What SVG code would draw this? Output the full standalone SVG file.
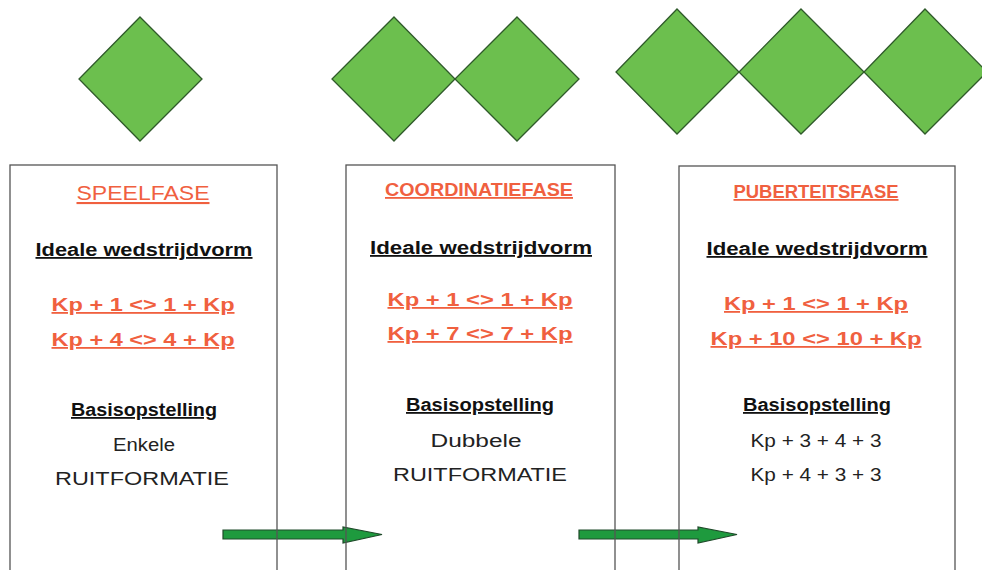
<svg xmlns="http://www.w3.org/2000/svg" width="982" height="570" viewBox="0 0 982 570">
<style>
.dia{fill:#6cbf4e;stroke:#2f5a2a;stroke-width:1.3}
.box{fill:none;stroke:#555;stroke-width:1.3}
.arr{fill:#1e9a3e;stroke:#1f4a2a;stroke-width:1.2}
text{font-family:"Liberation Sans",Arial,sans-serif;text-anchor:middle}
.t1{fill:#f0603f;font-size:21px;text-decoration:underline}
.t2{fill:#f0603f;font-size:18px;font-weight:bold;text-decoration:underline}
.h{fill:#111;font-size:18px;font-weight:bold;text-decoration:underline}
.r{fill:#f0603f;font-size:18px;font-weight:bold;text-decoration:underline}
.n{fill:#222;font-size:18px}
</style>
<rect width="982" height="570" fill="#fff"/>
<g id="diamonds">
<polygon class="dia" points="140,17 202,79 140,141 79,79"/>
<polygon class="dia" points="394,17 455,79 394,141 332,79"/>
<polygon class="dia" points="517,17 579,79 517,141 455,79"/>
<polygon class="dia" points="677,9 739,72 677,134 616,72"/>
<polygon class="dia" points="801,9 864,72 801,134 739,72"/>
<polygon class="dia" points="925,9 987,72 925,134 864,72"/>
</g>
<g id="connectors">
<polygon class="arr" points="223,530 343,530 343,527 382,534.5 343,543 343,539 223,539"/>
<polygon class="arr" points="579,530 698,530 698,527 737,534.5 698,543 698,539 579,539"/>
</g>
<g id="speelfase">
<rect class="box" x="10" y="165" width="267" height="420"/>
<text class="t1" x="143" y="200" textLength="133" lengthAdjust="spacingAndGlyphs">SPEELFASE</text>
<text class="h" x="144" y="256" textLength="217" lengthAdjust="spacingAndGlyphs">Ideale wedstrijdvorm</text>
<text class="r" x="143" y="311" textLength="183" lengthAdjust="spacingAndGlyphs">Kp + 1 &lt;&gt; 1 + Kp</text>
<text class="r" x="143" y="346" textLength="183" lengthAdjust="spacingAndGlyphs">Kp + 4 &lt;&gt; 4 + Kp</text>
<text class="h" x="144" y="416" textLength="146" lengthAdjust="spacingAndGlyphs">Basisopstelling</text>
<text class="n" x="144" y="451" textLength="62" lengthAdjust="spacingAndGlyphs">Enkele</text>
<text class="n" x="142" y="485" textLength="174" lengthAdjust="spacingAndGlyphs">RUITFORMATIE</text>
</g>
<g id="coordinatiefase">
<rect class="box" x="346" y="165" width="269" height="420"/>
<text class="t2" x="479" y="196" textLength="188" lengthAdjust="spacingAndGlyphs">COORDINATIEFASE</text>
<text class="h" x="481" y="254" textLength="222" lengthAdjust="spacingAndGlyphs">Ideale wedstrijdvorm</text>
<text class="r" x="480" y="306" textLength="185" lengthAdjust="spacingAndGlyphs">Kp + 1 &lt;&gt; 1 + Kp</text>
<text class="r" x="480" y="340" textLength="185" lengthAdjust="spacingAndGlyphs">Kp + 7 &lt;&gt; 7 + Kp</text>
<text class="h" x="480" y="411" textLength="148" lengthAdjust="spacingAndGlyphs">Basisopstelling</text>
<text class="n" x="476" y="447" textLength="91" lengthAdjust="spacingAndGlyphs">Dubbele</text>
<text class="n" x="480" y="481" textLength="174" lengthAdjust="spacingAndGlyphs">RUITFORMATIE</text>
</g>
<g id="puberteitsfase">
<rect class="box" x="679" y="166" width="276" height="420"/>
<text class="t2" x="816" y="198" textLength="165" lengthAdjust="spacingAndGlyphs">PUBERTEITSFASE</text>
<text class="h" x="817" y="255" textLength="221" lengthAdjust="spacingAndGlyphs">Ideale wedstrijdvorm</text>
<text class="r" x="816" y="310" textLength="184" lengthAdjust="spacingAndGlyphs">Kp + 1 &lt;&gt; 1 + Kp</text>
<text class="r" x="816" y="345" textLength="211" lengthAdjust="spacingAndGlyphs">Kp + 10 &lt;&gt; 10 + Kp</text>
<text class="h" x="817" y="411" textLength="148" lengthAdjust="spacingAndGlyphs">Basisopstelling</text>
<text class="n" x="816" y="447" textLength="131" lengthAdjust="spacingAndGlyphs">Kp + 3 + 4 + 3</text>
<text class="n" x="816" y="481" textLength="131" lengthAdjust="spacingAndGlyphs">Kp + 4 + 3 + 3</text>
</g>
</svg>
